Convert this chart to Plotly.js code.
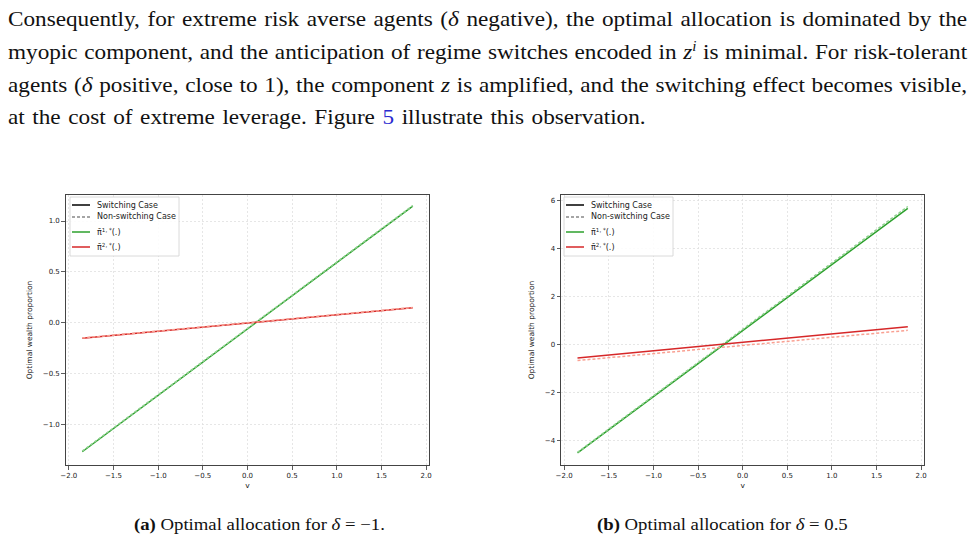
<!DOCTYPE html>
<html>
<head>
<meta charset="utf-8">
<script src="https://cdn.plot.ly/plotly-3.0.1.min.js"></script>
<style>
  html, body { margin: 0; padding: 0; background: #fff; overflow: hidden; }
  #page { position: relative; width: 976px; height: 541px; }
  #fig { position: absolute; left: 0; top: 0; width: 976px; height: 541px; }
  .txt { position: absolute; font-family: "Liberation Serif", "DejaVu Serif", serif; color: #111; white-space: nowrap; pointer-events: none; transform-origin: 0 0; }
  .para { left: 8px; width: 868px; font-size: 21px; line-height: 22px; text-align: justify; text-align-last: justify; transform: scaleX(1.105); }
  .para.last { text-align-last: left; word-spacing: 1.6px; }
  .cap { font-size: 17.5px; line-height: 20px; transform: scaleX(1.07); }
  .m { font-style: italic; }
  .ref { color: #2a2ad0; }
  sup { font-size: 0.65em; line-height: 0; }
</style>
</head>
<body>
<div id="page">
  <div id="fig"></div>
  <div class="txt para" style="top:8px">Consequently, for extreme risk averse agents (<span class="m">δ</span> negative), the optimal allocation is dominated by the</div>
  <div class="txt para" style="top:41px">myopic component, and the anticipation of regime switches encoded in <span class="m">z<sup>i</sup></span> is minimal. For risk-tolerant</div>
  <div class="txt para" style="top:74px">agents (<span class="m">δ</span> positive, close to 1), the component <span class="m">z</span> is amplified, and the switching effect becomes visible,</div>
  <div class="txt para last" style="top:106px">at the cost of extreme leverage. Figure <span class="ref">5</span> illustrate this observation.</div>
  <div class="txt cap" style="left:134px; top:514px"><b>(a)</b> Optimal allocation for <span class="m">δ</span> = −1.</div>
  <div class="txt cap" style="left:597px; top:514px"><b>(b)</b> Optimal allocation for <span class="m">δ</span> = 0.5</div>
</div>
<script>
// state variable grid
const v = [-1.85, 0, 1.85];

// delta = -1
const aPi1Switch = [-1.268, -0.060, 1.147];
const aPi1NoSwitch = [-1.262, -0.055, 1.152];
const aPi2Switch = [-0.153, -0.003, 0.147];
const aPi2NoSwitch = [-0.150, 0.000, 0.150];

// delta = 0.5
const bPi1Switch = [-4.52, 0.58, 5.68];
const bPi1NoSwitch = [-4.50, 0.63, 5.76];
const bPi2Switch = [-0.56, 0.09, 0.74];
const bPi2NoSwitch = [-0.67, -0.04, 0.59];

const legendLabels = ["Switching Case", "Non-switching Case", "π̄<sup>1, *</sup>(.)", "π̄<sup>2, *</sup>(.)"];
const xTicks = [-2.0, -1.5, -1.0, -0.5, 0.0, 0.5, 1.0, 1.5, 2.0];

const GREEN = "#2ca02c", GREEN_D = "#8fd08f";
const RED = "#d62728", RED_D = "#f9a092";

const W = 976, H = 541;
const px = x => x / W;
const py = y => 1 - y / H;

function line(x, y, color, dash, xa, ya) {
  return { x: x, y: y, xaxis: xa, yaxis: ya, type: "scatter", mode: "lines",
           line: { color: color, width: 1.5, dash: dash }, showlegend: false, hoverinfo: "skip" };
}

const DASH = "3px,2px";
const traces = [
  line(v, aPi1Switch, GREEN, "solid", "x", "y"),
  line(v, aPi1NoSwitch, GREEN_D, DASH, "x", "y"),
  line(v, aPi2Switch, RED, "solid", "x", "y"),
  line(v, aPi2NoSwitch, RED_D, DASH, "x", "y"),
  line(v, bPi1Switch, GREEN, "solid", "x2", "y2"),
  line(v, bPi1NoSwitch, GREEN_D, DASH, "x2", "y2"),
  line(v, bPi2Switch, RED, "solid", "x2", "y2"),
  line(v, bPi2NoSwitch, RED_D, DASH, "x2", "y2")
];

const tickFont = { family: "DejaVu Sans, sans-serif", size: 7, color: "#222" };
const titleFont = { family: "DejaVu Sans, sans-serif", size: 7.5, color: "#222" };

function xAxis(domain, anchor) {
  return {
    domain: domain, anchor: anchor, range: [-2.035, 2.035],
    tickvals: xTicks, tickformat: ".1f", ticks: "outside", ticklen: 3.5, tickwidth: 0.8, tickcolor: "#333",
    showline: true, linecolor: "#444", linewidth: 1, mirror: true,
    showgrid: true, gridcolor: "#e0e0e0", griddash: "2px,2px", gridwidth: 0.8, zeroline: false,
    tickfont: tickFont, title: { text: "v", font: titleFont, standoff: 3 }
  };
}
function yAxis(domain, anchor, range, dtick, fmt, standoff) {
  return {
    domain: domain, anchor: anchor, range: range, dtick: dtick, tick0: 0, tickformat: fmt,
    ticks: "outside", ticklen: 3.5, tickwidth: 0.8, tickcolor: "#333",
    showline: true, linecolor: "#444", linewidth: 1, mirror: true,
    showgrid: true, gridcolor: "#e0e0e0", griddash: "2px,2px", gridwidth: 0.8, zeroline: false,
    tickfont: tickFont, title: { text: "Optimal wealth proportion", font: titleFont, standoff: standoff }
  };
}

// hand-built legend boxes (matplotlib-style, compact)
const shapes = [], annotations = [];
function legendBox(x0, y0, x1, y1, sx0, sx1, tx) {
  shapes.push({ type: "rect", xref: "paper", yref: "paper", x0: px(x0), x1: px(x1), y0: py(y1), y1: py(y0),
                fillcolor: "rgba(255,255,255,0.85)", line: { color: "#d0d0d0", width: 0.8 }, layer: "above" });
  const rows = [205, 217, 232, 247];
  const styles = [["#000", "solid"], ["#888", DASH], [GREEN, "solid"], [RED, "solid"]];
  rows.forEach((ry, i) => {
    shapes.push({ type: "line", xref: "paper", yref: "paper", x0: px(sx0), x1: px(sx1), y0: py(ry), y1: py(ry),
                  line: { color: styles[i][0], width: 1.5, dash: styles[i][1] }, layer: "above" });
    annotations.push({ xref: "paper", yref: "paper", x: px(tx), y: py(ry), xanchor: "left", yanchor: "middle",
                       text: legendLabels[i], showarrow: false, font: { family: "DejaVu Sans, sans-serif", size: 8, color: "#222" } });
  });
}
legendBox(70, 197, 179, 256, 72, 90, 95);
legendBox(564, 197, 673, 256, 566, 584, 589);

const layout = {
  width: W, height: H, margin: { l: 0, r: 0, t: 0, b: 0 },
  paper_bgcolor: "#fff", plot_bgcolor: "#fff", showlegend: false,
  xaxis: xAxis([px(65.7), px(429.3)], "y"),
  yaxis: yAxis([py(465), py(195)], "x", [-1.398, 1.256], 0.5, ".1f", 9),
  xaxis2: xAxis([px(561), px(924.3)], "y2"),
  yaxis2: yAxis([py(465), py(195)], "x2", [-5.03, 6.24], 2, "d", 9),
  shapes: shapes, annotations: annotations
};

Plotly.newPlot("fig", traces, layout, { staticPlot: true, displayModeBar: false });
</script>
</body>
</html>
